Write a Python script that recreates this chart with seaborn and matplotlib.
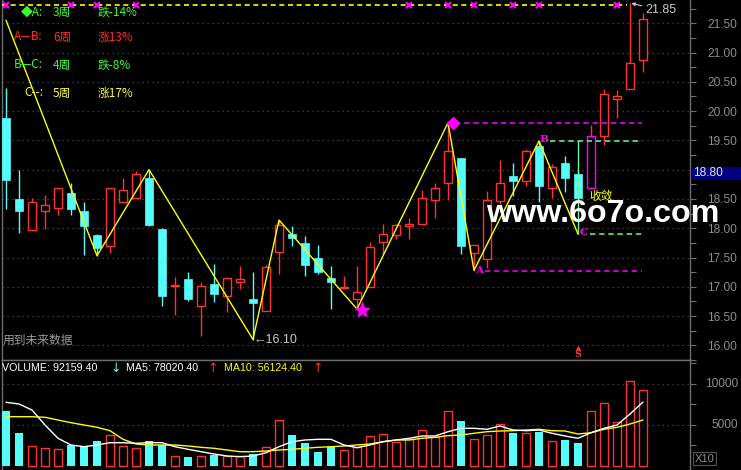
import numpy as np
import pandas as pd
import matplotlib
matplotlib.use('Agg')
import matplotlib.pyplot as plt
from matplotlib.patches import Rectangle
import seaborn as sns

# daily candles (index 0 = leftmost)
opens  = [19.88, 18.50, 17.97, 18.29, 18.35, 18.60, 18.29, 17.88, 17.69, 18.44,
          18.52, 18.85, 17.99, 17.01, 17.13, 16.67, 17.05, 16.85, 17.09, 16.80,
          16.59, 17.59, 17.90, 17.75, 17.49, 17.15, 16.98, 16.79, 16.99, 17.77,
          17.89, 18.03, 18.08, 18.49, 18.78, 19.20, 17.58, 17.48, 18.47, 18.90,
          18.81, 19.40, 18.69, 19.12, 18.92, 18.69, 19.57, 20.21, 20.38, 20.88]
highs  = [20.40, 19.00, 18.52, 18.56, 18.68, 18.78, 18.44, 17.90, 18.69, 18.86,
          18.98, 19.00, 18.00, 17.17, 17.26, 17.09, 17.39, 17.15, 17.35, 17.26,
          17.38, 18.14, 18.03, 17.87, 17.71, 17.36, 17.18, 17.35, 17.76, 18.07,
          18.08, 18.17, 18.65, 18.77, 19.80, 19.20, 17.71, 18.63, 19.17, 19.11,
          19.36, 19.49, 19.09, 19.24, 19.00, 19.77, 20.37, 20.36, 21.85, 21.68]
lows   = [18.33, 17.91, 17.97, 17.99, 18.22, 18.22, 17.55, 17.53, 17.57, 18.44,
          18.52, 18.03, 16.68, 16.51, 16.75, 16.16, 16.74, 16.57, 16.97, 16.10,
          16.59, 17.21, 17.70, 17.18, 17.21, 16.62, 16.98, 16.62, 16.99, 17.56,
          17.82, 17.82, 18.08, 18.18, 18.48, 17.56, 17.27, 17.32, 18.41, 18.55,
          18.72, 18.44, 18.52, 18.62, 18.45, 18.69, 19.42, 19.88, 20.38, 20.67]
closes = [18.82, 18.30, 18.44, 18.39, 18.68, 18.33, 18.04, 17.66, 18.69, 18.65,
          18.92, 18.06, 16.84, 17.03, 16.79, 17.01, 16.87, 17.15, 17.14, 16.72,
          17.34, 18.05, 17.84, 17.38, 17.26, 17.09, 17.00, 16.91, 17.68, 17.90,
          18.05, 18.07, 18.51, 18.68, 19.31, 17.70, 17.71, 18.48, 18.78, 18.81,
          19.32, 18.72, 19.04, 18.85, 18.52, 19.58, 20.29, 20.26, 20.82, 21.58]

volume = [6707, 4024, 2400, 2155, 2033, 2561, 2400, 3049, 3740, 2400,
          2155, 3049, 2561, 1180, 1098, 1180, 1341, 1260, 1260, 1423,
          2276, 5569, 3780, 2805, 1748, 2357, 1951, 2357, 3660, 3862,
          2967, 3252, 4350, 3496, 6667, 5488, 3252, 3740, 5081, 4024,
          4024, 4187, 3008, 3170, 2805, 6667, 7642, 5366, 10402, 9216]
ma5 = [7768, 7561, 6829, 5000, 3378, 2561, 2354, 2561, 2841, 2841,
       2768, 2841, 2841, 2354, 2037, 1744, 1463, 1220, 1134, 1220,
       1622, 2354, 2963, 3171, 3256, 3256, 2561, 2232, 2561, 2963,
       3171, 3378, 3659, 3659, 4183, 4598, 4598, 4476, 4878, 4390,
       4305, 4390, 3988, 3659, 3378, 4061, 4598, 5000, 6341, 7802]
ma10 = [6012, 6012, 6012, 5939, 5610, 5280, 5000, 4719, 4305, 3256,
        2683, 2561, 2561, 2561, 2439, 2280, 2159, 1951, 1744, 1744,
        1829, 1951, 2037, 2159, 2280, 2354, 2439, 2561, 2683, 2963,
        3171, 3171, 3378, 3500, 3695, 3780, 3988, 4183, 4268, 4305,
        4390, 4476, 4305, 4268, 3902, 4061, 4476, 4719, 5122, 5612]

# zigzag swing points
zz_idx = [0, 7, 11, 19, 21, 27, 34, 36, 41, 44]
zz_price = [21.55, 17.53, 19.00, 16.10, 18.14, 16.62, 19.80, 17.28, 19.49, 17.90]

top_level = 21.81
top_marks = [0, 5, 7, 10, 31, 34, 36, 39, 41, 47]

pt_A, pt_B, pt_C, pt_top = 17.27, 19.49, 17.90, 19.80
low_label = '16.10'
high_label = '21.85'

price_ticks = [16.0, 16.5, 17.0, 17.5, 18.0, 18.5, 19.0, 19.5, 20.0, 20.5, 21.0, 21.5]
price_labels = ['16.00', '16.50', '17.00', '17.50', '18.00', '18.50', '',
                '19.50', '20.00', '20.50', '21.00', '21.50']
cursor_price = '18.80'
vol_ticks = [5000, 10000]
vol_labels = ['5000', '10000']

legend_c1 = ['◆A:', 'A—B:', 'B—C:', 'C--:']
legend_c2 = ['3周', '6周', '4周', '5周']
legend_c3 = ['跌-14%', '涨13%', '跌-8%', '涨17%']
legend_col = ['#33ff33', '#ff2a2a', '#33ff33', '#ffff33']

CYAN, RED, MAG, YEL = '#54fcfc', '#ff3232', '#ff00ff', '#ffff00'
GREEN_LN = '#66ff99'
AXC, LBL = '#6e6e6e', '#8c8c8c'

sns.set_theme(style='dark', rc={'axes.facecolor': 'black', 'figure.facecolor': 'black',
                                'axes.edgecolor': AXC, 'axes.linewidth': 1.0})
plt.rcParams['font.family'] = ['DejaVu Sans', 'Noto Sans CJK SC']
CJK = ['Noto Sans CJK SC', 'DejaVu Sans']
NUM = ['Liberation Sans', 'DejaVu Sans']

W, H = 741, 470
def fx(px):
    return px / W
def fy(py):
    return 1 - py / H

fig = plt.figure(figsize=(7.41, 4.70), dpi=100)
ax = fig.add_axes([fx(1.5), fy(360), fx(690) - fx(1.5), 360 / H])
axv = fig.add_axes([fx(1.5), 0, fx(690) - fx(1.5), 110 / H])

idx = np.arange(len(closes))
xmin, xmax = (1.5 - 6) / 13, (690 - 6) / 13
for a in (ax, axv):
    a.set_xlim(xmin, xmax)
    a.set_facecolor('black')
ax.set_ylim(16 - 13 / 58.85, 16 + 347 / 58.85)
axv.set_ylim(-4 * 121.95, 106 * 121.95)

# ---- candles
bw = 0.66
for i in idx:
    o, h, l, c = opens[i], highs[i], lows[i], closes[i]
    up = c >= o
    col = RED if up else CYAN
    ax.vlines(i, l, h, color=col, lw=1.0, zorder=2)
    bot, ht = min(o, c), max(abs(c - o), 0.02)
    if i == 45:
        ax.add_patch(Rectangle((i - bw / 2, bot), bw, ht, facecolor='black',
                               edgecolor=MAG, lw=1.0, zorder=3))
    elif up:
        ax.add_patch(Rectangle((i - bw / 2, bot), bw, ht, facecolor='black',
                               edgecolor=RED, lw=1.0, zorder=3))
    else:
        ax.add_patch(Rectangle((i - bw / 2, bot), bw, ht, facecolor=CYAN,
                               edgecolor=CYAN, lw=0.5, zorder=3))

ax.vlines(44, pt_C, pt_B, color=GREEN_LN, lw=1.0, zorder=4)

# zigzag
sns.lineplot(x=zz_idx, y=zz_price, ax=ax, color=YEL, lw=1.0, zorder=5)

# top dashed line with markers
ax.hlines(top_level, xmin, 47.8, color=YEL, lw=1.2, linestyles=(0, (3, 2.2)), zorder=4)
ax.plot(top_marks, [top_level] * len(top_marks), ls='none', marker='x', ms=4,
        mew=1.5, color=MAG, zorder=6)

# level lines
ax.hlines(pt_top, 34.5, 48.9, color=MAG, lw=1.1, linestyles=(0, (3.5, 2.5)), zorder=4)
ax.hlines(pt_A, 36.85, 48.9, color=MAG, lw=1.1, linestyles=(0, (3.5, 2.5)), zorder=4)
ax.hlines(pt_B, 41.85, 48.9, color=GREEN_LN, lw=1.1, linestyles=(0, (3.5, 2.5)), zorder=4)
ax.hlines(pt_C, 44.9, 48.9, color=GREEN_LN, lw=1.1, linestyles=(0, (3.5, 2.5)), zorder=4)

ax.plot([34.4], [pt_top], marker='D', ms=6.5, color=MAG, ls='none', zorder=7)
ax.plot([27.4], [16.60], marker='*', ms=11, color=MAG, ls='none', zorder=7)
for lab, xi, yv in [('A', 36.4, 17.27), ('B', 41.4, 19.51), ('C', 44.4, 17.92)]:
    ax.text(xi, yv, lab, color=MAG, fontsize=7.5, fontweight='bold',
            family='DejaVu Serif', ha='center', va='center', zorder=8)

ax.text(19.0, 16.10, '←' + low_label, color='#c8c8c8', fontsize=9, family=NUM,
        ha='left', va='center', zorder=8)
ax.annotate(high_label, xy=(48.1, 21.84), xytext=(49.15, 21.72), color='#c8c8c8',
            fontsize=9, family=NUM, ha='left', va='center', zorder=8,
            arrowprops=dict(arrowstyle='-|>', color='#c8c8c8', lw=0.8,
                            mutation_scale=5, shrinkA=0, shrinkB=0))
ax.text(44.9, 18.55, '收敛', color=YEL, fontsize=8.5, family=CJK, ha='left',
        va='center', zorder=8)
ax.text(-0.25, 16.08, '用到未来数据', color='#9a9a9a', fontsize=8.5, family=CJK,
        ha='left', va='center', zorder=8)
ax.text(44.0, 15.85, 'S', color=RED, fontsize=7, fontweight='bold', family='DejaVu Serif',
        ha='center', va='center', zorder=8)
ax.plot([44.0], [15.95], marker='^', ms=2.5, color=RED, ls='none', zorder=8)

# price axis
ax.yaxis.tick_right()
ax.set_yticks(price_ticks)
ax.set_yticklabels(price_labels)
ax.set_yticks(np.arange(15.75, 22.0, 0.25), minor=True)
ax.tick_params(axis='y', which='both', direction='out', length=4, width=0.8, color=AXC,
               labelcolor=LBL, labelsize=8.6, pad=8.5, left=False, right=True,
               labelfontfamily='Liberation Sans')
ax.set_xticks([])
ax.grid(True, axis='y', which='major', color='#4d4d4d', linestyle=(0, (1, 3)), lw=0.9)
ax.grid(False, axis='x')
ax.spines['top'].set_visible(False)
for s in ('left', 'right', 'bottom'):
    ax.spines[s].set_color(AXC)

# ---- volume panel
vol_up = [c >= o for o, c in zip(opens, closes)]
for i in idx:
    if vol_up[i]:
        axv.bar(i, volume[i], width=0.62, facecolor='none', edgecolor=RED, lw=1.0, zorder=3)
    else:
        axv.bar(i, volume[i], width=0.64, color=CYAN, lw=0, zorder=3)
sns.lineplot(x=idx, y=ma10, ax=axv, color=YEL, lw=1.0, zorder=4)
sns.lineplot(x=idx, y=ma5, ax=axv, color='white', lw=1.0, zorder=5)

axv.yaxis.tick_right()
axv.set_yticks(vol_ticks)
axv.set_yticks([2500, 7500, 12500], minor=True)
axv.tick_params(axis='y', which='both', direction='out', length=4, width=0.8, color=AXC,
                labelright=False, left=False, right=True)
vol_lab_x = (738 - 1.5) / (690 - 1.5)
for v, lab in zip(vol_ticks, vol_labels):
    axv.text(vol_lab_x, v, lab, transform=axv.get_yaxis_transform(), color=LBL,
             fontsize=8.6, family=NUM, ha='right', va='center', clip_on=False)
axv.set_xticks([])
axv.grid(True, axis='y', which='major', color='#4d4d4d', linestyle=(0, (1, 3)), lw=0.9)
axv.grid(False, axis='x')
axv.spines['bottom'].set_visible(False)
for s in ('left', 'right', 'top'):
    axv.spines[s].set_color(AXC)

# ---- header texts
for k in range(4):
    y = [12.5, 37, 65, 93][k]
    fig.text(fx(43), fy(y), legend_c1[k], color=legend_col[k], fontsize=8.5, family=CJK,
             ha='right', va='center')
    fig.text(fx(53), fy(y), legend_c2[k], color=legend_col[k], fontsize=8.5, family=CJK,
             ha='left', va='center')
    fig.text(fx(98), fy(y), legend_c3[k], color=legend_col[k], fontsize=8.5, family=CJK,
             ha='left', va='center')

vy = fy(368)
fig.text(fx(2), vy, 'VOLUME: 92159.40', color='white', fontsize=7.7, family=NUM, va='center')
fig.text(fx(110), vy, '↓', color=CYAN, fontsize=9, family='DejaVu Sans', va='center')
fig.text(fx(126), vy, 'MA5: 78020.40', color='white', fontsize=7.7, family=NUM, va='center')
fig.text(fx(207), vy, '↑', color=RED, fontsize=9, family='DejaVu Sans', va='center')
fig.text(fx(224), vy, 'MA10: 56124.40', color=YEL, fontsize=7.7, family=NUM, va='center')
fig.text(fx(312), vy, '↑', color=RED, fontsize=9, family='DejaVu Sans', va='center')

# watermark
fig.text(fx(486), fy(222), 'www.6o7o.com', color='white', fontsize=23.2, fontweight='bold',
         family='Liberation Sans', ha='left', va='baseline')

# cursor price box on the right axis
fig.patches.append(Rectangle((fx(691), fy(180)), 50 / W, 13 / H, transform=fig.transFigure,
                             facecolor='#000080', edgecolor='none', zorder=5))
fig.text(fx(693), fy(173.5), cursor_price, color='#e6e6e6', fontsize=8.6, family=NUM,
         va='center', ha='left', zorder=6)

fig.text(fx(695), fy(458.5), 'X10', color=LBL, fontsize=8, family=NUM, va='center', ha='left',
         bbox=dict(facecolor='black', edgecolor='#555555', boxstyle='square,pad=0.15', lw=0.8))

fig.savefig('out.png', dpi=100, facecolor='black')
